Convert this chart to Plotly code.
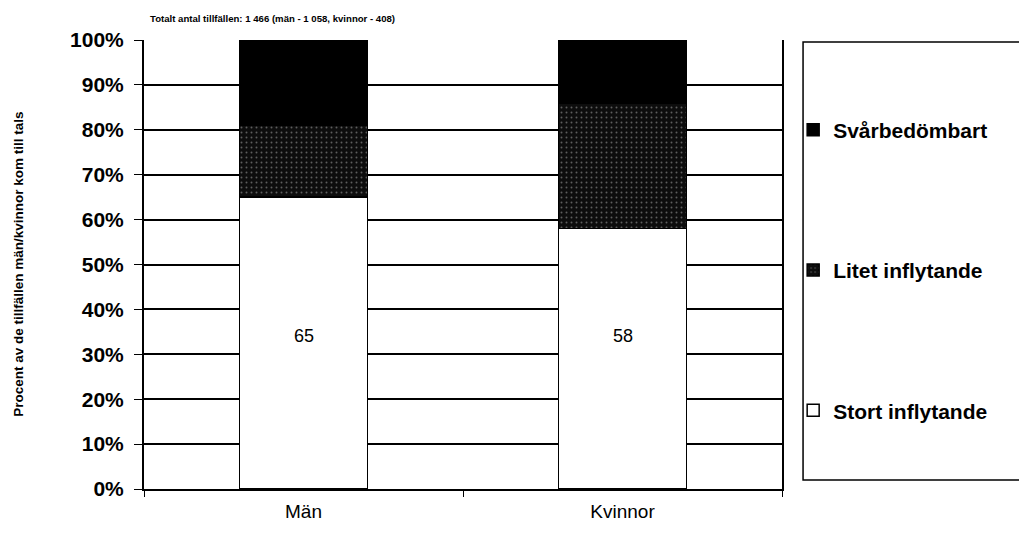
import plotly.graph_objects as go

kon = ["Män", "Kvinnor"]
stort = [65, 58]
litet = [16, 28]
svar = [19, 14]
label_y = [34, 34]
tick_vals = [0, 10, 20, 30, 40, 50, 60, 70, 80, 90, 100]
tick_text = [f"{v}%" for v in tick_vals]

FONT = "Liberation Sans, Arial, sans-serif"

fig = go.Figure()

fig.add_trace(go.Bar(
    x=kon, y=stort, name="<b>Stort inflytande</b>", legendgroup="a", legendrank=3,
    marker=dict(color="white", line=dict(color="black", width=1.5)),
))
fig.add_trace(go.Bar(
    x=kon, y=litet, name="<b>Litet inflytande</b>", legendgroup="b", legendrank=2,
    marker=dict(color="#0d0d0d", line=dict(color="black", width=1.5),
                pattern=dict(shape=".", fgcolor="#b0b0b0", bgcolor="#0d0d0d",
                             size=5, solidity=0.12)),
))
fig.add_trace(go.Bar(
    x=kon, y=svar, name="<b>Svårbedömbart</b>", legendgroup="c", legendrank=1,
    marker=dict(color="black", line=dict(color="black", width=1.5)),
))

for k, v, ly in zip(kon, stort, label_y):
    fig.add_annotation(x=k, y=ly, text=str(v), showarrow=False,
                       font=dict(size=18, color="black", family=FONT))

# legend frame
fig.add_shape(type="rect", xref="paper", yref="paper",
              x0=1.033, x1=1.40, y0=0.02, y1=0.9955,
              line=dict(color="black", width=1.5), fillcolor="white", layer="below")

fig.add_annotation(
    text="<b>Totalt antal tillfällen: 1 466 (män - 1 058, kvinnor - 408)</b>",
    xref="paper", yref="paper", x=0.006, y=1, yshift=14,
    xanchor="left", yanchor="bottom", showarrow=False,
    font=dict(size=9.6, color="black", family=FONT),
)
fig.add_annotation(
    text="<b>Procent av de tillfällen män/kvinnor kom till tals</b>",
    xref="paper", yref="paper", x=-0.197, y=0.5, textangle=-90,
    xanchor="center", yanchor="middle", showarrow=False,
    font=dict(size=13.5, color="black", family=FONT),
)

fig.update_layout(
    barmode="stack",
    bargap=0.6,
    width=1019, height=529,
    margin=dict(l=136, r=245, t=32, b=48),
    paper_bgcolor="white", plot_bgcolor="white",
    font=dict(family=FONT, color="black"),
    legend=dict(
        traceorder="grouped", x=1.0175, y=0.845, xanchor="left", yanchor="top",
        tracegroupgap=110, itemwidth=30, font=dict(size=21, color="black"),
        bgcolor="rgba(0,0,0,0)", borderwidth=0,
    ),
    xaxis=dict(
        showline=True, linecolor="black", linewidth=2, mirror=False,
        ticks="outside", tickson="boundaries", ticklen=6, tickcolor="black",
        tickfont=dict(size=19, color="black"), showgrid=False,
        ticklabelstandoff=4,
    ),
    yaxis=dict(
        range=[0, 100], tickvals=tick_vals, ticktext=[f"<b>{t}</b>" for t in tick_text],
        showline=True, linecolor="black", linewidth=2, mirror=True,
        ticks="outside", ticklen=8, tickcolor="black", ticklabelstandoff=6,
        tickfont=dict(size=21, color="black"),
        showgrid=True, gridcolor="black", gridwidth=2, zeroline=False,
    ),
)

fig.write_html("out.html")
